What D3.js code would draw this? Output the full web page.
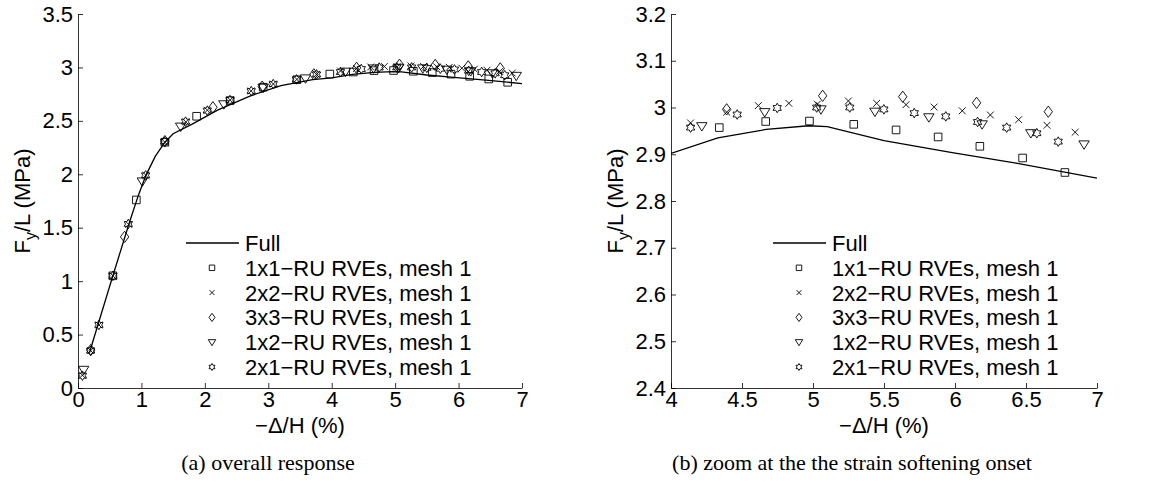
<!DOCTYPE html>
<html>
<head>
<meta charset="utf-8">
<script src="https://cdn.jsdelivr.net/npm/d3@7"></script>
<style>
  body { margin: 0; background: #fff; }
  svg text { font-family: "Liberation Sans", Arial, Helvetica, sans-serif; fill: #000; }
  svg text.caption { font-family: "Liberation Serif", "Times New Roman", serif; }
</style>
</head>
<body>
<svg id="fig" width="1159" height="482"></svg>
<script>
// ---- data: displacement -Δ/H (%) vs. force per length F_y/L (MPa) ----
const fullCurve = [
  [0.18, 0.33], [0.55, 1.05], [0.80, 1.53], [0.95, 1.80], [1.07, 1.99],
  [1.22, 2.17], [1.37, 2.30], [1.50, 2.38], [1.80, 2.47], [2.20, 2.60],
  [2.70, 2.73], [3.20, 2.83], [3.70, 2.885], [4.00, 2.902], [4.33, 2.935],
  [4.67, 2.953], [4.97, 2.961], [5.10, 2.959], [5.50, 2.929], [5.97, 2.904],
  [6.43, 2.881], [7.00, 2.849]
];
const rve1x1 = [
  [0.55, 1.05], [0.92, 1.76], [1.37, 2.30], [1.87, 2.543], [2.40, 2.69],
  [2.92, 2.815], [3.45, 2.885], [3.97, 2.938], [4.34, 2.957], [4.667, 2.970],
  [4.975, 2.971], [5.287, 2.964], [5.585, 2.952], [5.881, 2.937], [6.175, 2.917],
  [6.476, 2.892], [6.774, 2.861]
];
const rve2x2 = [
  [0.07, 0.12], [0.20, 0.35], [0.33, 0.59], [0.55, 1.05], [0.80, 1.53],
  [1.07, 1.99], [1.37, 2.30], [1.70, 2.49], [2.04, 2.60], [2.40, 2.695],
  [2.73, 2.78], [3.08, 2.845], [3.45, 2.888], [3.76, 2.935], [4.138, 2.967],
  [4.392, 2.990], [4.615, 3.004], [4.830, 3.009], [5.030, 3.007], [5.249, 3.014],
  [5.448, 3.009], [5.655, 3.006], [5.853, 3.001], [6.051, 2.993], [6.249, 2.984],
  [6.448, 2.974], [6.648, 2.962], [6.846, 2.947]
];
const rve3x3 = [
  [0.20, 0.355], [0.735, 1.414], [1.37, 2.31], [2.127, 2.627], [2.904, 2.82],
  [3.718, 2.935], [4.392, 2.996], [5.068, 3.025], [5.632, 3.023], [6.152, 3.010],
  [6.657, 2.991]
];
const rve1x2 = [
  [0.09, 0.17], [1.014, 1.933], [1.618, 2.446], [2.30, 2.655], [2.92, 2.81],
  [3.587, 2.897], [4.217, 2.960], [4.660, 2.990], [5.056, 2.996], [5.436, 2.991],
  [5.816, 2.979], [6.191, 2.964], [6.534, 2.945], [6.909, 2.921]
];
const rve2x1 = [
  [0.07, 0.115], [0.20, 0.35], [0.33, 0.59], [0.55, 1.05], [0.793, 1.535],
  [1.066, 1.99], [1.366, 2.306], [1.696, 2.493], [2.038, 2.596], [2.395, 2.695],
  [2.731, 2.779], [3.078, 2.844], [3.445, 2.888], [3.76, 2.935], [4.138, 2.957],
  [4.466, 2.985], [4.748, 2.999], [5.026, 3.000], [5.259, 3.000], [5.499, 2.996],
  [5.713, 2.988], [5.935, 2.981], [6.159, 2.969], [6.364, 2.957], [6.576, 2.945],
  [6.727, 2.927]
];
const seriesNames = [
  "1x1\u2212RU RVEs, mesh 1", "2x2\u2212RU RVEs, mesh 1", "3x3\u2212RU RVEs, mesh 1",
  "1x2\u2212RU RVEs, mesh 1", "2x1\u2212RU RVEs, mesh 1"
];
const fullName = "Full";
const leftXTicks = [0, 1, 2, 3, 4, 5, 6, 7];
const leftYTicks = [0, 0.5, 1, 1.5, 2, 2.5, 3, 3.5];
const rightXTicks = [4, 4.5, 5, 5.5, 6, 6.5, 7];
const rightYTicks = [2.4, 2.5, 2.6, 2.7, 2.8, 2.9, 3.0, 3.1, 3.2];
const captions = ["(a) overall response", "(b) zoom at the the strain softening onset"];

// ---- marker shapes (size = half-width in px) ----
const mkSquare = { draw(c, r) { c.rect(-r, -r, 2 * r, 2 * r); } };
const mkX = { draw(c, r) { c.moveTo(-r, -r); c.lineTo(r, r); c.moveTo(-r, r); c.lineTo(r, -r); } };
const mkDiamond = { draw(c, r) { const h = r * 1.35; c.moveTo(0, -h); c.lineTo(r, 0); c.lineTo(0, h); c.lineTo(-r, 0); c.closePath(); } };
const mkTriDown = { draw(c, r) { const h = r * 0.85; c.moveTo(-r, -h * 0.8); c.lineTo(r, -h * 0.8); c.lineTo(0, h * 1.1); c.closePath(); } };
const mkHexagram = { draw(c, r) {
  const ri = r / Math.sqrt(3);
  for (let i = 0; i < 12; i++) {
    const a = -Math.PI / 2 + i * Math.PI / 6;
    const rr = i % 2 === 0 ? r : ri;
    const px = rr * Math.cos(a), py = rr * Math.sin(a);
    if (i === 0) c.moveTo(px, py); else c.lineTo(px, py);
  }
  c.closePath();
} };

const series = [
  { data: rve1x1, shape: mkSquare, size: 3.8 },
  { data: rve2x2, shape: mkX, size: 3.4 },
  { data: rve3x3, shape: mkDiamond, size: 4.2 },
  { data: rve1x2, shape: mkTriDown, size: 5.2 },
  { data: rve2x1, shape: mkHexagram, size: 4.8 }
];

const FS = "22px";
const svg = d3.select("#fig");

function panel(cfg) {
  const x = d3.scaleLinear().domain(cfg.xDomain).range([cfg.x0, cfg.x1]);
  const y = d3.scaleLinear().domain(cfg.yDomain).range([cfg.y0, cfg.y1]);
  const g = svg.append("g");

  const clipId = "clip" + cfg.id;
  svg.append("defs").append("clipPath").attr("id", clipId)
    .append("rect").attr("x", cfg.x0).attr("y", cfg.y1)
    .attr("width", cfg.x1 - cfg.x0).attr("height", cfg.y0 - cfg.y1);

  // axes, ticks pointing inward
  const xa = g.append("g").attr("transform", `translate(0,${cfg.y0})`)
    .call(d3.axisBottom(x).tickValues(cfg.xTicks).tickFormat(d => String(d))
      .tickSizeInner(-5).tickSizeOuter(0).tickPadding(3));
  const ya = g.append("g").attr("transform", `translate(${cfg.x0},0)`)
    .call(d3.axisLeft(y).tickValues(cfg.yTicks).tickFormat(d => String(d))
      .tickSizeInner(-5).tickSizeOuter(0).tickPadding(5));
  [xa, ya].forEach(a => {
    a.attr("font-family", null).attr("font-size", null);
    a.selectAll("text").style("font-size", FS).attr("fill", "#000");
    a.selectAll("path,line").attr("stroke", "#000").attr("stroke-width", 0.8);
  });

  // reference curve
  const line = d3.line().x(d => x(d[0])).y(d => y(d[1]));
  g.append("path").datum(fullCurve)
    .attr("clip-path", `url(#${clipId})`)
    .attr("d", line).attr("fill", "none").attr("stroke", "#000").attr("stroke-width", 1.3);

  // RVE results
  const inside = d => d[0] >= cfg.xDomain[0] && d[0] <= cfg.xDomain[1] &&
                      d[1] >= cfg.yDomain[0] && d[1] <= cfg.yDomain[1];
  series.forEach(s => {
    const sym = d3.symbol().type(s.shape).size(s.size);
    g.append("g").selectAll("path").data(s.data.filter(inside)).join("path")
      .attr("transform", d => `translate(${x(d[0])},${y(d[1])})`)
      .attr("d", sym).attr("fill", "none").attr("stroke", "#000").attr("stroke-width", 0.9);
  });

  // axis titles
  const cx = (cfg.x0 + cfg.x1) / 2;
  g.append("text").attr("x", cx).attr("y", 433).attr("text-anchor", "middle")
    .style("font-size", FS).text("\u2212\u0394/H (%)");
  const yl = g.append("text").attr("transform", `translate(${cfg.x0 - 48},201) rotate(-90)`)
    .attr("text-anchor", "middle").style("font-size", FS);
  yl.append("tspan").text("F");
  yl.append("tspan").attr("dy", 6).style("font-size", "16px").text("y");
  yl.append("tspan").attr("dy", -6).text("/L (MPa)");

  // legend
  const lg = g.append("g");
  const rowY = i => 243 + i * 24.8;
  lg.append("line").attr("x1", cfg.legX).attr("x2", cfg.legX + 53)
    .attr("y1", rowY(0)).attr("y2", rowY(0)).attr("stroke", "#000").attr("stroke-width", 1.3);
  lg.append("text").attr("x", cfg.legX + 59).attr("y", rowY(0) + 8)
    .style("font-size", FS).text(fullName);
  series.forEach((s, i) => {
    const yy = rowY(i + 1);
    lg.append("path").attr("transform", `translate(${cfg.legX + 26},${yy})`)
      .attr("d", d3.symbol().type(s.shape).size(s.size * 0.72)())
      .attr("fill", "none").attr("stroke", "#000").attr("stroke-width", 0.9);
    lg.append("text").attr("x", cfg.legX + 59).attr("y", yy + 8)
      .style("font-size", FS).text(seriesNames[i]);
  });

  // caption
  svg.append("text").attr("class", "caption").attr("x", cfg.capX).attr("y", 470)
    .attr("text-anchor", "middle").style("font-size", FS).text(cfg.caption);
}

panel({ id: "a", x0: 78, x1: 522, y0: 388, y1: 14, xDomain: [0, 7], yDomain: [0, 3.5],
        xTicks: leftXTicks, yTicks: leftYTicks, legX: 186, capX: 268, caption: captions[0] });
panel({ id: "b", x0: 671, x1: 1097, y0: 388, y1: 14, xDomain: [4, 7], yDomain: [2.4, 3.2],
        xTicks: rightXTicks, yTicks: rightYTicks, legX: 773, capX: 852, caption: captions[1] });
</script>
</body>
</html>
